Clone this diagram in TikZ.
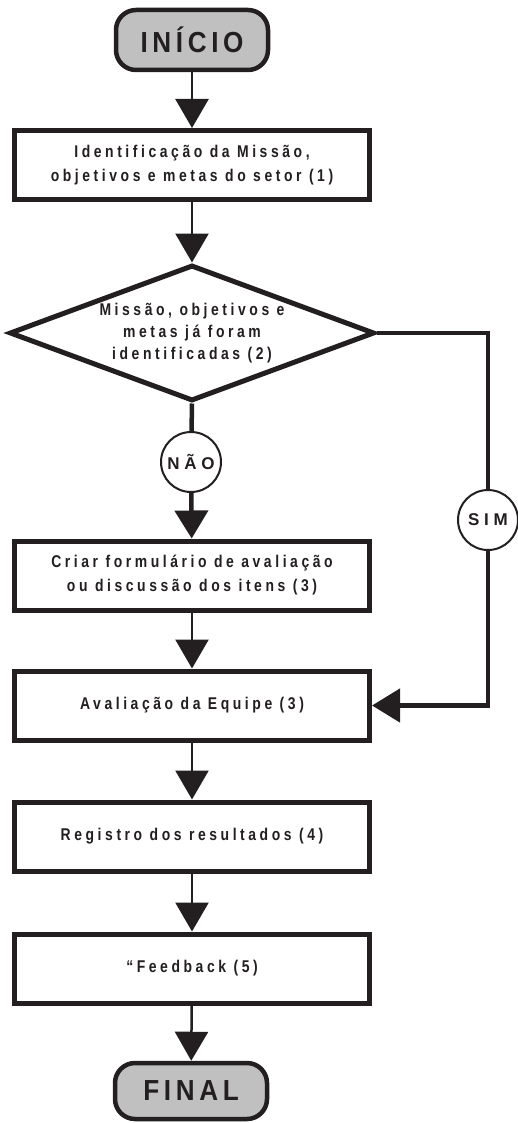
\documentclass[tikz,border=0pt]{standalone}
\usepackage{fontspec}
\usetikzlibrary{shapes.geometric,arrows.meta}
\newfontfamily\boxfont{Liberation Sans}[LetterSpace=21, FakeStretch=0.82]
\newfontfamily\termfont{Liberation Sans}[LetterSpace=16, FakeStretch=0.9]
\newfontfamily\tagfont{Liberation Sans}[LetterSpace=28]
\definecolor{ink}{HTML}{231F20}
\definecolor{termgray}{HTML}{C0C0C0}
\tikzset{
  stepbox/.style={draw=ink, line width=5pt, fill=white, rectangle,
    minimum width=355pt, minimum height=69pt, inner sep=0pt, align=center,
    text=ink, font=\boxfont\bfseries\fontsize{17}{24}\selectfont},
  decision/.style={draw=ink, line width=5pt, fill=white, diamond, aspect=2.68,
    minimum width=365pt, minimum height=136pt, inner sep=0pt, align=center,
    text=ink, font=\boxfont\bfseries\fontsize{17}{22}\selectfont},
  terminal/.style={draw=ink, line width=4.5pt, fill=termgray, rectangle,
    rounded corners=20pt, minimum width=152pt, inner sep=0pt,
    text=ink, font=\termfont\bfseries\fontsize{29}{30}\selectfont},
  answer/.style={draw=ink, line width=2pt, fill=white, circle,
    minimum size=60pt, inner sep=0pt,
    text=ink, font=\tagfont\bfseries\fontsize{17}{18}\selectfont},
  thinflow/.style={draw=ink, line width=2.5pt,
    -{Triangle[length=29pt,width=33pt]}},
  thickflow/.style={draw=ink, line width=4.5pt},
  thickarrow/.style={draw=ink, line width=4.5pt,
    -{Triangle[length=28pt,width=33pt]}},
}
\begin{document}
\begin{tikzpicture}[x=1pt,y=-1pt]
\useasboundingbox (0,0) rectangle (517,1123);

% terminals
\node[terminal, minimum height=60pt] (ini) at (192,40) {INÍCIO};
\node[terminal, minimum height=56pt] (fin) at (191,1091) {FINAL};

% process steps
\node[stepbox] (b1) at (192,165) {Identificação da Missão,\\objetivos e metas do setor (1)};
\node[decision] (dec) at (192,333) {Missão, objetivos e\\metas já foram\\identificadas (2)};
\node[stepbox] (b2) at (192,575.5) {Criar formulário de avaliação\\ou discussão dos itens (3)};
\node[stepbox] (b3) at (192,705.5) {Avaliação da Equipe (3)};
\node[stepbox] (b4) at (192,836.5) {Registro dos resultados (4)};
\node[stepbox] (b5) at (192,968.5) {“Feedback (5)};

% answers of the decision
\node[answer] (nao) at (191,462) {NÃO};
\node[answer] (sim) at (488,520) {SIM};

% connectors
\draw[thinflow] (ini) -- (b1);
\draw[thinflow] (b1) -- (dec);
\draw[thickflow] (dec.south) -- (nao);
\draw[thickarrow] (nao) -- (b2);
\draw[thickflow] (dec.east) -| (sim.north);
\draw[thickarrow] (sim.south) |- (b3.east);
\draw[thinflow] (b2) -- (b3);
\draw[thinflow] (b3) -- (b4);
\draw[thinflow] (b4) -- (b5);
\draw[thinflow] (b5) -- (fin);
\end{tikzpicture}
\end{document}
